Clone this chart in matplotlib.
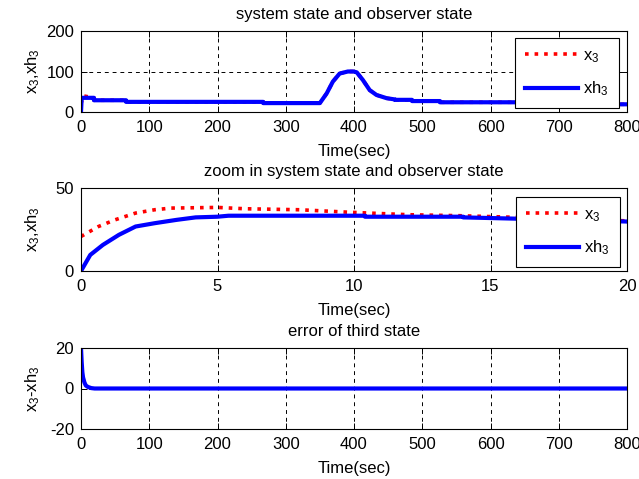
import matplotlib
matplotlib.use("Agg")
import matplotlib.pyplot as plt

plt.rcParams['font.family'] = ['Liberation Sans', 'DejaVu Sans']
plt.rcParams['axes.unicode_minus'] = False
plt.rcParams['mathtext.fontset'] = 'custom'
plt.rcParams['mathtext.rm'] = 'Liberation Sans'
plt.rcParams['mathtext.it'] = 'Liberation Sans'

# ---- data: top panel (0-800 s) ----
t_top = [0, 1, 19, 19, 66, 66, 267, 267, 350, 360, 369, 379, 391, 399, 404, 413,
         423, 433, 448, 460, 460, 485, 485, 526, 526, 660, 660, 800]
xh3_top = [0, 35, 35, 29, 29, 25, 25, 22, 22, 46, 75, 95, 100, 100, 98, 79,
           54, 42, 34, 31, 30, 30, 27, 27, 24, 24, 19, 19]
t_top_x3 = [0, 3, 19, 19, 66, 66, 267, 267, 350, 360, 369, 379, 391, 399, 404, 413,
            423, 433, 448, 460, 460, 485, 485, 526, 526, 660, 660, 800]
x3_top = [20, 40, 35, 29, 29, 25, 25, 22, 22, 46, 75, 95, 100, 100, 98, 79,
          54, 42, 34, 31, 30, 30, 27, 27, 24, 24, 19, 19]

# ---- data: middle panel (zoom 0-20 s) ----
t_mid_x3 = [0, 0.64, 1.24, 2.0, 2.7, 3.3, 5.0, 6.0, 8.0, 9.7, 12.0, 13.9, 16.0, 20.0]
x3_mid = [20.8, 26.8, 30.8, 34.9, 36.9, 37.9, 38.3, 37.5, 36.9, 35.5, 33.9, 33.3, 32.3, 30.2]
t_mid_xh3 = [0, 0.34, 0.8, 1.39, 2.0, 2.7, 3.5, 4.2, 5.0, 5.4, 10.4, 10.4, 14.0, 14.0, 16.0, 20.0]
xh3_mid = [0, 9.7, 15.7, 21.8, 26.8, 28.8, 30.8, 32.3, 32.7, 33.3, 33.3, 32.7, 32.7, 32.3, 31.5, 29.8]

# ---- data: bottom panel (error) ----
t_err = [0, 1, 2, 3, 5, 7, 10, 15, 20, 800]
err = [20, 13, 8, 5.5, 3, 1.5, 0.8, 0.2, 0, 0]

top_xticks = [0, 100, 200, 300, 400, 500, 600, 700, 800]
mid_xticks = [0, 5, 10, 15, 20]
top_yticks = [0, 100, 200]
mid_yticks = [0, 50]
bot_yticks = [-20, 0, 20]

FS = 12
fig = plt.figure(figsize=(6.39, 4.79), dpi=100)
L, W = 81 / 639, 546 / 639
ax1 = fig.add_axes([L, 1 - 112 / 479, W, 81 / 479])
ax2 = fig.add_axes([L, 1 - 271 / 479, W, 83 / 479])
ax3 = fig.add_axes([L, 1 - 429 / 479, W, 81 / 479])

red_kw = dict(color='red', linestyle=':', linewidth=2.6)
blue_kw = dict(color='blue', linestyle='-', linewidth=3.0)

ax1.plot(t_top_x3, x3_top, label='x$_3$', **red_kw)
ax1.plot(t_top, xh3_top, label='xh$_3$', **blue_kw)
ax1.set_xlim(0, 800); ax1.set_ylim(0, 200)
ax1.set_xticks(top_xticks); ax1.set_yticks(top_yticks)
ax1.set_title('system state and observer state', fontsize=FS, pad=8.5)
ax1.set_ylabel('x$_3$,xh$_3$', fontsize=FS)

ax2.plot(t_mid_x3, x3_mid, label='x$_3$', **red_kw)
ax2.plot(t_mid_xh3, xh3_mid, label='xh$_3$', **blue_kw)
ax2.set_xlim(0, 20); ax2.set_ylim(0, 50)
ax2.set_xticks(mid_xticks); ax2.set_yticks(mid_yticks)
ax2.set_title('zoom in system state and observer state', fontsize=FS, pad=8.5)
ax2.set_ylabel('x$_3$,xh$_3$', fontsize=FS)

ax3.plot(t_err, err, **blue_kw)
ax3.set_xlim(0, 800); ax3.set_ylim(-20, 20)
ax3.set_xticks(top_xticks); ax3.set_yticks(bot_yticks)
ax3.set_title('error of third state', fontsize=FS, pad=8.5)
ax3.set_ylabel('x$_3$-xh$_3$', fontsize=FS)

for ax in (ax1, ax2, ax3):
    ax.set_xlabel('Time(sec)', fontsize=FS, labelpad=6)
    ax.grid(True, color='black', linestyle=(0, (4, 4)), linewidth=0.7)
    ax.tick_params(direction='in', top=True, right=True, length=4, width=0.7,
                   labelsize=FS)
    ax.tick_params(axis='x', pad=6)
    ax.tick_params(axis='y', pad=5)
    for s in ax.spines.values():
        s.set_linewidth(0.8)
    ax.yaxis.set_label_coords(-0.072, 0.5)

leg_kw = dict(loc='upper right', fontsize=FS, handlelength=3.2, labelspacing=0.9,
              borderpad=0.6, handletextpad=0.3, borderaxespad=0, fancybox=False,
              edgecolor='black', framealpha=1)
l1 = ax1.legend(bbox_to_anchor=(0.985, 0.914), **leg_kw)
l2 = ax2.legend(bbox_to_anchor=(0.987, 0.892), **leg_kw)
for l in (l1, l2):
    l.get_frame().set_linewidth(0.8)

fig.savefig('out.png', dpi=100)
